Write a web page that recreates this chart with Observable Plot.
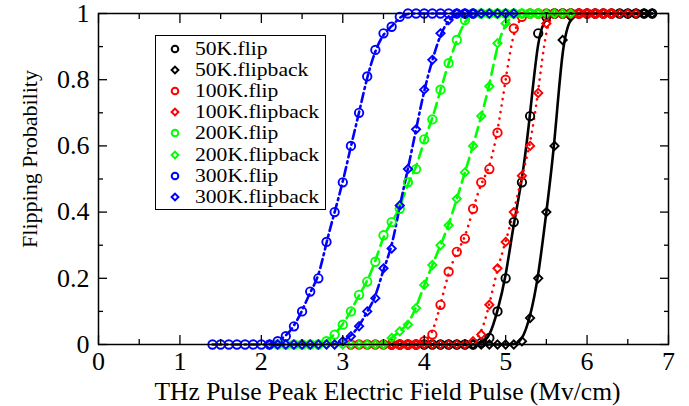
<!DOCTYPE html>
<html><head><meta charset="utf-8">
<script src="https://cdn.jsdelivr.net/npm/d3@7"></script>
<script src="https://cdn.jsdelivr.net/npm/@observablehq/plot@0.6"></script>
<style>
body{margin:0;background:#fff;}
#wrap{position:relative;width:689px;height:406px;}
#wrap svg text{font-family:"Liberation Serif",serif;}
#legend{position:absolute;left:155px;top:35px;width:171px;height:175px;border:1.5px solid #000;background:#fff;box-sizing:border-box;font-family:"Liberation Serif",serif;font-size:18px;color:#000;}
#legend .row{position:absolute;left:0;height:20px;line-height:20px;white-space:nowrap;}
#legend svg{position:absolute;left:13px;top:4px;}
#legend span{position:absolute;left:39px;top:0;display:inline-block;transform:scaleX(1.2);transform-origin:left center;}
</style></head><body><div id="wrap"></div>
<script>
// x step between samples (MV/cm) and first sample of each series
const xStep = 0.1;

const names = ["50K.flip","50K.flipback","100K.flip","100K.flipback","200K.flip","200K.flipback","300K.flip","300K.flipback"];
const colors = ["#000000","#000000","#ff0000","#ff0000","#00ff00","#00ff00","#0000ff","#0000ff"];
const symbols = ["circle","diamond2","circle","diamond2","circle","diamond2","circle","diamond2"];
const starts = [3.6, 3.6, 3.1, 3.4, 2.2, 2.6, 1.4, 2.1];

const flip50 = [0,0,0,0,0,0,0,0,0,0,0, 0.005,0.02,0.10,0.20,0.37,0.49,0.69,0.94,0.99, 1,1,1,1,1,1,1,1,1,1,1,1,1];
const flipback50 = [0,0,0,0,0,0,0,0,0,0,0,0,0,0,0,0, 0.01,0.08,0.20,0.40,0.60,0.92,0.99, 1,1,1,1,1,1,1,1,1,1];
const flip100 = [0,0,0,0,0,0,0,0,0, 0.01,0.03,0.12,0.22,0.28,0.32,0.41,0.49,0.53,0.64,0.80,0.955,0.99, 1,1,1,1,1,1,1,1,1,1,1];
const flipback100 = [0,0,0,0,0,0,0,0,0,0,0,0, 0.01,0.03,0.12,0.23,0.31,0.40,0.51,0.60,0.76,0.97, 1,1,1,1,1,1,1,1,1,1,1];
const flip200 = [0,0,0,0,0,0, 0.01,0.03,0.06,0.10,0.15,0.19,0.25,0.33,0.37,0.41,0.49,0.53,0.62,0.68,0.77,0.85,0.92,0.98, 1,1,1,1,1,1,1,1,1];
const flipback200 = [0,0,0,0,0,0,0,0,0,0, 0.02,0.04,0.06,0.11,0.18,0.24,0.30,0.36,0.44,0.52,0.60,0.69,0.78,0.91,0.97, 1,1,1,1,1,1,1,1];
const flip300 = [0,0,0,0,0,0,0,0, 0.01,0.025,0.055,0.10,0.16,0.20,0.31,0.40,0.49,0.60,0.70,0.81,0.89,0.94,0.96,0.99, 1,1,1,1,1,1,1,1,1];
const flipback300 = [0,0,0,0,0,0,0,0,0, 0.01,0.025,0.055,0.10,0.14,0.23,0.29,0.42,0.53,0.65,0.77,0.86,0.94,0.98, 1,1,1,1,1,1,1,1];

const values = [flip50, flipback50, flip100, flipback100, flip200, flipback200, flip300, flipback300];

const xMajor = [0,1,2,3,4,5,6,7];
const xMinor = [0.5,1.5,2.5,3.5,4.5,5.5,6.5];
const yMajor = [0,0.2,0.4,0.6,0.8,1];
const yMinor = [0.1,0.3,0.5,0.7,0.9];

const xTitle = "THz Pulse Peak Electric Field Pulse (Mv/cm)";
const yTitle = "Flipping Probability";

const serif = "'Liberation Serif', serif";

// build tidy rows
const series = names.map((name, k) => ({
  name, color: colors[k], symbol: symbols[k],
  rows: values[k].map((p, i) => ({x: +(starts[k] + i * xStep).toFixed(2), p}))
}));

const lineStyles = {
  "000000": {strokeDasharray: null},
  "ff0000": {strokeDasharray: "0.1 6.5", strokeLinecap: "round"},
  "00ff00": {strokeDasharray: "10 6"},
  "0000ff": {strokeDasharray: "9 4 2 4"}
};

const marks = [];
for (const s of series) {
  const st = lineStyles[s.color.slice(1)];
  marks.push(Plot.line(s.rows, {x: "x", y: "p", stroke: s.color, strokeWidth: 2.6, curve: "basis", ...st}));
}
for (const s of series) {
  marks.push(Plot.dot(s.rows, {x: "x", y: "p", stroke: s.color, symbol: s.symbol, r: s.symbol === "circle" ? 4.2 : 3.7, strokeWidth: 1.9, fill: "none"}));
}

// tick-only axes: fill "none" suppresses tick labels and axis label
const tick = {fill: "none", label: null, stroke: "#000", strokeWidth: 1.3};

const chart = Plot.plot({
  width: 689, height: 406,
  marginLeft: 98, marginRight: 21, marginTop: 13, marginBottom: 62,
  style: {fontFamily: serif, background: "#fff", color: "#000"},
  x: {domain: [0, 7], axis: null},
  y: {domain: [0, 1], axis: null},
  marks: [
    ...marks,
    Plot.frame({stroke: "#000", strokeWidth: 1.5}),
    Plot.axisX(xMajor, {anchor: "bottom", tickSize: -9, ...tick}),
    Plot.axisX(xMinor, {anchor: "bottom", tickSize: -5, ...tick}),
    Plot.axisX(xMajor, {anchor: "top", tickSize: -9, ...tick}),
    Plot.axisX(xMinor, {anchor: "top", tickSize: -5, ...tick}),
    Plot.axisY(yMajor, {anchor: "left", tickSize: -9, ...tick}),
    Plot.axisY(yMinor, {anchor: "left", tickSize: -5, ...tick}),
    Plot.axisY(yMajor, {anchor: "right", tickSize: -9, ...tick}),
    Plot.axisY(yMinor, {anchor: "right", tickSize: -5, ...tick}),
    // tick labels
    Plot.text(xMajor, {x: d => d, frameAnchor: "bottom", lineAnchor: "middle", dy: 17, text: d => `${d}`, fontSize: 26, fontFamily: serif, fill: "#000"}),
    Plot.text(yMajor, {y: d => d, frameAnchor: "left", textAnchor: "end", lineAnchor: "middle", dx: -9, text: d => `${d}`, fontSize: 26, fontFamily: serif, fill: "#000"}),
    // axis titles
    Plot.text([xTitle], {frameAnchor: "bottom", textAnchor: "middle", lineAnchor: "middle", dx: 4, dy: 47, fontSize: 25.5, fontFamily: serif, fill: "#000", text: d => d}),
    Plot.text([yTitle], {frameAnchor: "left", textAnchor: "middle", dx: -69, dy: -20, rotate: -90, fontSize: 22, fontFamily: serif, fill: "#000", text: d => d})
  ]
});
const wrap = document.getElementById("wrap");
wrap.appendChild(chart);

// legend
const legend = document.createElement("div");
legend.id = "legend";
series.forEach((s, i) => {
  const row = document.createElement("div");
  row.className = "row";
  row.style.top = (3 + i * 21.1) + "px";
  const sym = s.symbol === "circle"
    ? `<circle cx="6" cy="6" r="3.3" fill="none" stroke="${s.color}" stroke-width="2"/>`
    : `<path d="M6,2.6L9.4,6L6,9.4L2.6,6Z" fill="none" stroke="${s.color}" stroke-width="2"/>`;
  row.innerHTML = `<svg width="12" height="12">${sym}</svg><span>${s.name}</span>`;
  legend.appendChild(row);
});
wrap.appendChild(legend);
</script>
</body></html>
